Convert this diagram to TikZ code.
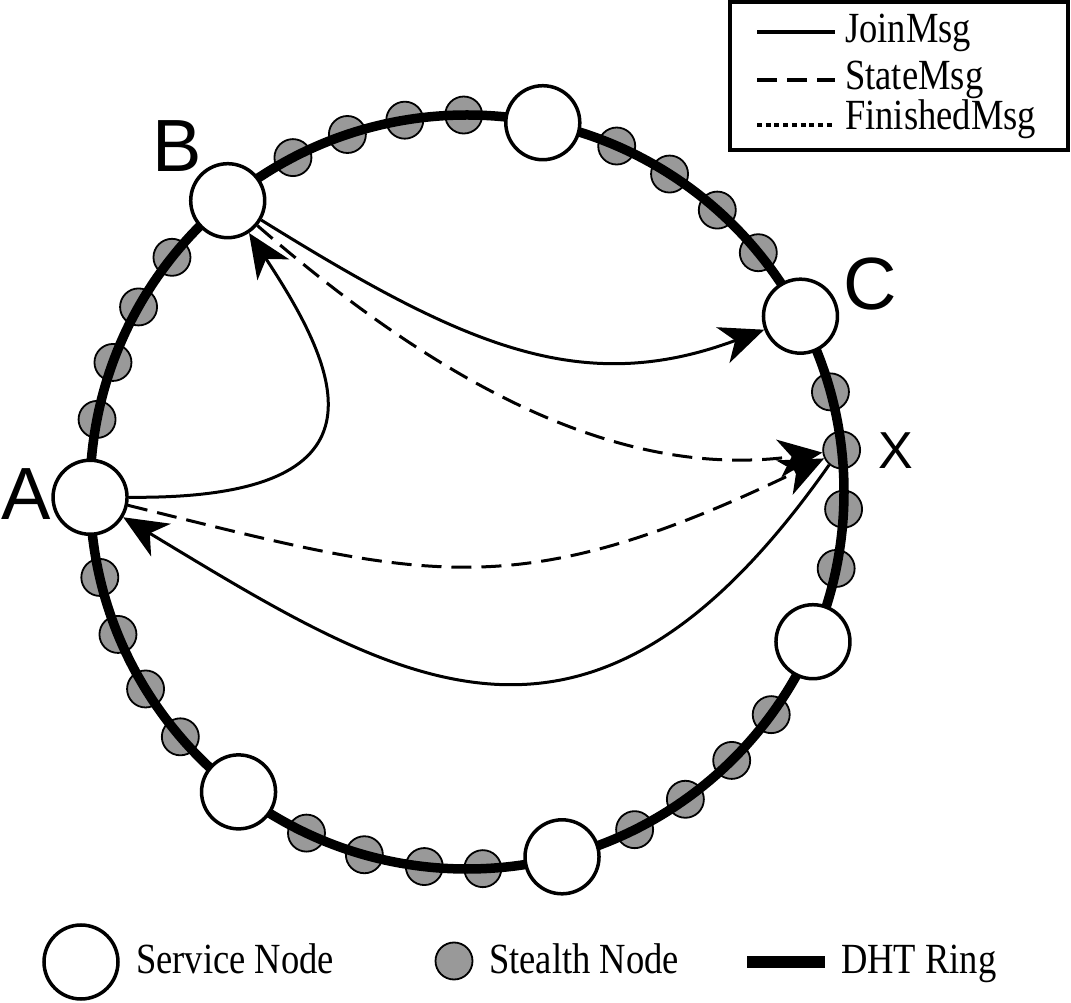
\documentclass[tikz,border=0pt]{standalone}
\usepackage{fontspec}
\usepackage{graphicx}
\setmainfont{Liberation Serif}
\newfontfamily\lsans{Liberation Sans}
\usetikzlibrary{arrows.meta,calc}
\definecolor{stealthgray}{RGB}{153,153,153}
\begin{document}
\begin{tikzpicture}[x=1pt,y=1pt,
  svc/.style={circle,draw,fill=white,line width=3.5pt,minimum size=74pt,inner sep=0pt},
  sth/.style={circle,draw,fill=stealthgray,line width=1.8pt,minimum size=37pt,inner sep=0pt},
  ring/.style={line width=9.5pt},
  msg/.style={line width=3pt,-{Stealth[length=44pt,width=38pt,inset=13pt]}},
  statemsg/.style={msg,dash pattern=on 20pt off 10pt},
  lbl/.style={font=\lsans\fontsize{74}{80}\selectfont,inner sep=0pt},
  legtxt/.style={inner sep=0pt,anchor=base west,font=\fontsize{43}{50}\selectfont},
  legline/.style={line width=3.5pt},
]
\useasboundingbox (0,0) rectangle (1071,1002);
\coordinate (O) at (467,510);
% stealth nodes (under the ring)
\foreach \a [count=\i] in {168.9,159.9,150.6,141.5,117.5,108.5,99.5,90.5,66.6,57.5,48.4,39.4,15.4,-2.6,-11.7,-36.2,-45.4,-54.6,-63.6,-87.6,-96.5,-105.8,-115.2,-139.5,-148.5,-157.8,-166.9}
  \node[sth] (s\i) at ($(O)+(\a:377)$) {};
\node[sth] (X) at ($(O)+(6.4:377)$) {};
% DHT ring
\draw[ring] (O) circle[radius=377];
% service nodes
\node[svc] (A)  at ($(O)+(180.8:377)$) {};
\node[svc] (B)  at ($(O)+(129.4:377)$) {};
\node[svc] (T)  at ($(O)+(78.4:377)$) {};
\node[svc] (C)  at ($(O)+(27.8:377)$) {};
\node[svc] (R)  at ($(O)+(-23.4:377)$) {};
\node[svc] (Bo) at ($(O)+(-75.4:377)$) {};
\node[svc] (BL) at ($(O)+(-127.3:377)$) {};
% messages
\draw[msg] (A.east) .. controls (397,502) and (342,628) .. (B);
\draw[msg] (B.-30) .. controls (464,656) and (581,604) .. (C);
\draw[statemsg] (B.-40) .. controls (442,616) and (620,522) .. (X);
\draw[statemsg] (A.-12) .. controls (423,424) and (512,393) .. (X);
\draw[msg] (X.-130) .. controls (589,195) and (401,317) .. (A);
% labels
\node[lbl] (la) at (26,508) {A};
\node[lbl] (lb) at (177,856) {B};
\node[lbl] (lc) at (870,718) {C};
\node[lbl,font=\lsans\fontsize{52}{56}\selectfont] (lx) at (896,551) {X};
% legend box
\node[draw,line width=4.5pt,minimum width=338pt,minimum height=148pt,inner sep=0pt] (legend) at (899,926) {};
\draw[legline] (757,970) -- (835,970);
\draw[legline,dash pattern=on 20pt off 10pt] (757,922) -- (835,922);
\draw[legline,dash pattern=on 5pt off 3.7pt] (757,877) -- (835,877);
\node[legtxt] (tj) at (845,959) {\scalebox{0.85}[1]{JoinMsg}};
\node[legtxt] (ts) at (845,912) {\scalebox{0.85}[1]{StateMsg}};
\node[legtxt] (tf) at (845,872) {\scalebox{0.85}[1]{FinishedMsg}};
% bottom legend
\node[svc] (ls) at (81,40) {};
\node[legtxt] (tsv) at (136,29) {\scalebox{0.85}[1]{Service Node}};
\node[sth] (lt) at (454,41) {};
\node[legtxt] (tst) at (489,29) {\scalebox{0.85}[1]{Stealth Node}};
\draw[line width=12pt] (747,40) -- (825,40);
\node[legtxt] (tdh) at (841,29) {\scalebox{0.85}[1]{DHT Ring}};
\end{tikzpicture}
\end{document}
